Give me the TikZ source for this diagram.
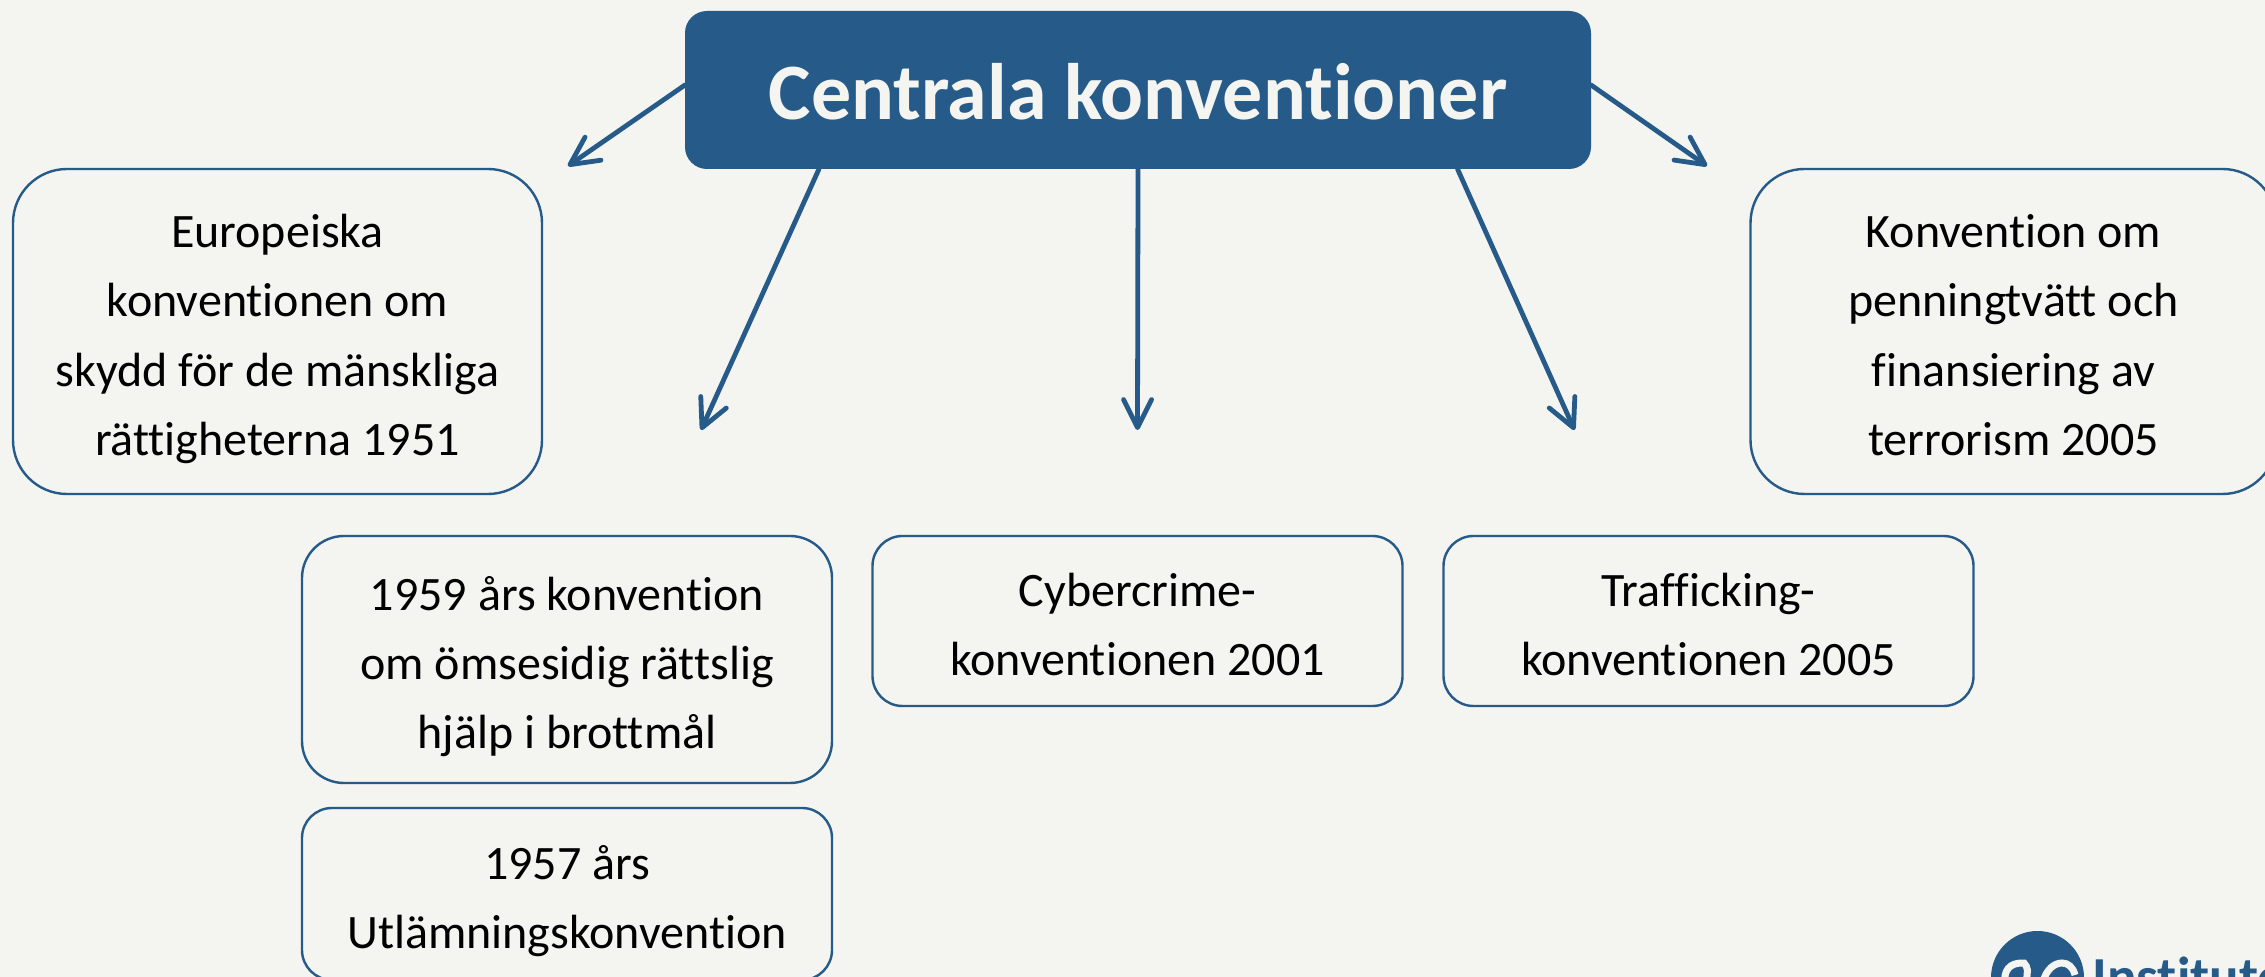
\documentclass[tikz,border=0pt]{standalone}
\usepackage{fontspec}
\setmainfont[Ligatures=NoCommon]{Carlito}
\usetikzlibrary{arrows.meta,calc}
\definecolor{bgc}{HTML}{F4F4F0}
\definecolor{bluec}{HTML}{265A88}
\newcommand\tstrut{\rule{0pt}{26pt}}
\newcommand\bstrut{\rule[-6pt]{0pt}{6pt}}
\tikzset{
  x=0.5pt,y=-0.5pt,
  cbox/.style={draw=bluec,line width=1.2pt,rounded corners=#1,fill=bgc,align=center,inner sep=0pt,outer sep=0pt,
    font=\fontsize{24}{34.7}\selectfont,text=black},
  cbox/.default=16pt,
  titlebox/.style={fill=bluec,rounded corners=11pt,inner sep=0pt,outer sep=0pt,text=bgc,text height=30.1pt,
    font=\fontsize{40}{44}\selectfont\bfseries},
  conn/.style={draw=bluec,line width=2.4pt,line cap=round,-{Straight Barb[length=14pt,width=14pt,line cap=round,round]}},
}
\begin{document}
\begin{tikzpicture}
\useasboundingbox (0,0) rectangle (2265,977);
\clip (0,0) rectangle (2265,977);
\fill[bgc] (0,0) rectangle (2265,977);
\node[titlebox,minimum width=453pt,minimum height=79pt] (title) at (1138,90) {Centrala konventioner};
\node[cbox=27pt,minimum width=264.5pt,minimum height=162.5pt] (ec) at (277.5,331.5) {\tstrut Europeiska\\konventionen om\\skydd för de mänskliga\\rättigheterna 1951\bstrut};
\node[cbox=27pt,minimum width=263pt,minimum height=162.5pt] (pt) at (2013.5,331.5) {\tstrut Konvention om\\penningtvätt och\\finansiering av\\terrorism 2005\bstrut};
\node[cbox=21pt,minimum width=265pt,minimum height=123.5pt] (r59) at (567,659.5) {\tstrut 1959 års konvention\\om ömsesidig rättslig\\hjälp i brottmål\bstrut};
\node[cbox=15pt,minimum width=265pt,minimum height=86pt] (r57) at (567,894) {\tstrut 1957 års\\Utlämningskonvention\bstrut};
\node[cbox=15pt,minimum width=265pt,minimum height=85pt] (cc) at (1137.5,621) {\tstrut Cybercrime-\\konventionen 2001\bstrut};
\node[cbox=15pt,minimum width=265pt,minimum height=85pt] (tr) at (1708.5,621) {\tstrut Trafficking-\\konventionen 2005\bstrut};
\coordinate (ta) at (568,166);
\coordinate (tb) at (701,430);
\coordinate (tc) at (1137.5,430);
\coordinate (td) at (1574.5,430);
\coordinate (te) at (1707,166);
\draw[conn] ($(title.west)+(0,-5)$) -- (ta);
\draw[conn] ($(title.south)+(-319,0)$) -- (tb);
\draw[conn] (title.south) -- (tc);
\draw[conn] ($(title.south)+(319.5,0)$) -- (td);
\draw[conn] ($(title.east)+(0,-5)$) -- (te);
% logo
\fill[bluec] (2037.5,977.5) circle[radius=46.5];
\draw[bgc,line width=3.5pt] (2005,985) .. controls (2003,970) and (2010,963) .. (2022,963) -- (2024,963) .. controls (2028,968) .. (2026,985);
\draw[bgc,line width=3.5pt] (2043,982) .. controls (2046,970) and (2054,963) .. (2062,963) .. controls (2068,963) and (2073,967) .. (2075,975);
\node[anchor=base west,inner sep=0pt,text=bluec,font=\fontsize{27.5}{29}\selectfont\bfseries] (logo) at (2092,995) {Institutet};
\end{tikzpicture}
\end{document}
